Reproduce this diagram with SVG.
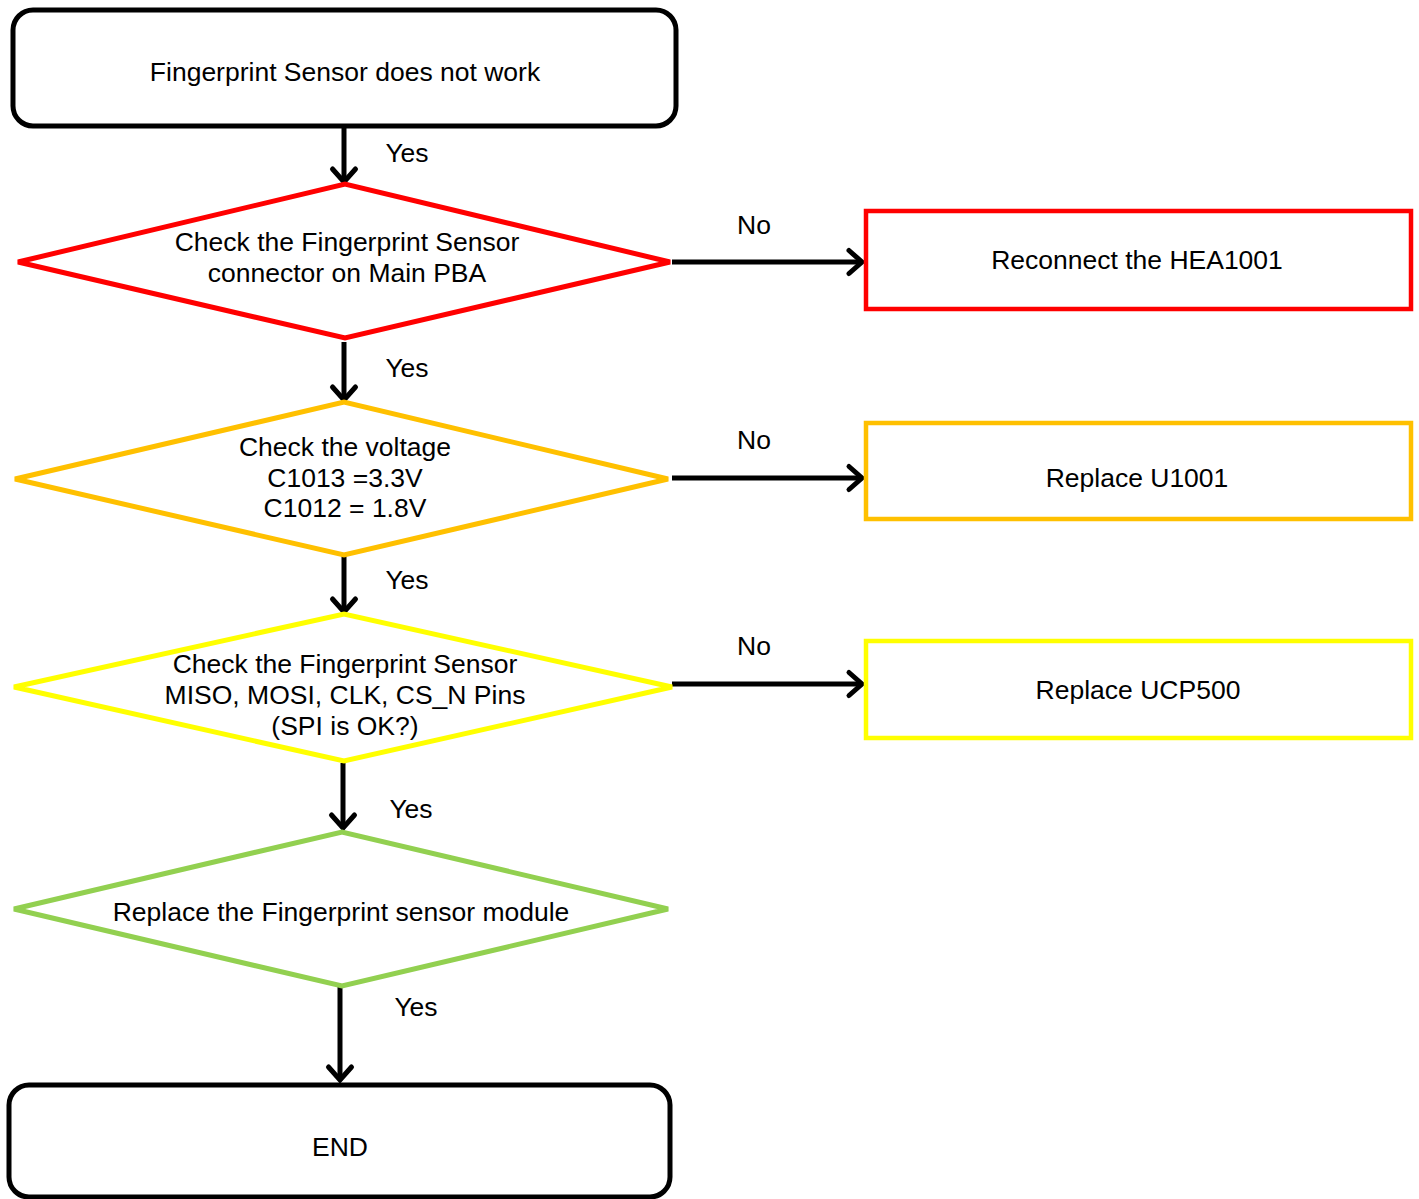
<svg xmlns="http://www.w3.org/2000/svg" width="1419" height="1199" viewBox="0 0 1419 1199">
<style>
text{font-family:"Liberation Sans",Arial,sans-serif;font-size:26.5px;fill:#000;text-anchor:middle;dominant-baseline:central}
.term{fill:#fff;stroke:#000;stroke-width:5}
.dia{fill:#fff;stroke-width:5}
.box{fill:#fff;stroke-width:4.5}
.conn{stroke:#000;stroke-width:5;fill:none;marker-end:url(#arr)}
</style>
<defs>
<marker id="arr" markerUnits="userSpaceOnUse" markerWidth="32" markerHeight="32" refX="24" refY="16" orient="auto" viewBox="0 0 32 32">
<path d="M11,4.5 L24,16 L11,27.5" fill="none" stroke="#000" stroke-width="5" stroke-linecap="round" stroke-linejoin="miter"/>
</marker>
</defs>
<rect width="1419" height="1199" fill="#fff"/>
<g id="connectors">
<line class="conn" x1="344" y1="126" x2="344" y2="182"/>
<line class="conn" x1="672" y1="262" x2="862" y2="262"/>
<line class="conn" x1="344" y1="342" x2="344" y2="400"/>
<line class="conn" x1="672" y1="478" x2="862" y2="478"/>
<line class="conn" x1="344" y1="556" x2="344" y2="612"/>
<line class="conn" x1="672" y1="684" x2="862" y2="684"/>
<line class="conn" x1="343" y1="763" x2="343" y2="828"/>
<line class="conn" x1="340" y1="987" x2="340" y2="1080"/>
<text x="407" y="153">Yes</text>
<text x="754" y="225">No</text>
<text x="407" y="368">Yes</text>
<text x="754" y="440">No</text>
<text x="407" y="580">Yes</text>
<text x="754" y="646">No</text>
<text x="411" y="809">Yes</text>
<text x="416" y="1007">Yes</text>
</g>
<g id="start">
<rect class="term" x="13" y="10" width="663" height="116" rx="20"/>
<text x="345" y="72">Fingerprint Sensor does not work</text>
</g>
<g id="check-connector">
<polygon class="dia" stroke="#FF0000" points="18,262 345,184 670,262 345,338"/>
<text x="347" y="242">Check the Fingerprint Sensor</text>
<text x="347" y="273">connector on Main PBA</text>
</g>
<g id="reconnect">
<rect class="box" stroke="#FF0000" x="866" y="211" width="545" height="98"/>
<text x="1137" y="260">Reconnect the HEA1001</text>
</g>
<g id="check-voltage">
<polygon class="dia" stroke="#FFC000" points="15,479 344,402 668,479 344,555"/>
<text x="345" y="447">Check the voltage</text>
<text x="345" y="478">C1013 =3.3V</text>
<text x="345" y="508">C1012 = 1.8V</text>
</g>
<g id="replace-u1001">
<rect class="box" stroke="#FFC000" x="866" y="423" width="545" height="96"/>
<text x="1137" y="478">Replace U1001</text>
</g>
<g id="check-spi">
<polygon class="dia" stroke="#FFFF00" points="14,687 344,614 672,687 344,761"/>
<text x="345" y="664">Check the Fingerprint Sensor</text>
<text x="345" y="695">MISO, MOSI, CLK, CS_N Pins</text>
<text x="345" y="726">(SPI is OK?)</text>
</g>
<g id="replace-ucp500">
<rect class="box" stroke="#FFFF00" x="866" y="641" width="545" height="97"/>
<text x="1138" y="690">Replace UCP500</text>
</g>
<g id="replace-module">
<polygon class="dia" stroke="#92D050" points="14,909 342,832 668,909 342,986"/>
<text x="341" y="912">Replace the Fingerprint sensor module</text>
</g>
<g id="end">
<rect class="term" x="9" y="1085" width="661" height="112" rx="20"/>
<text x="340" y="1147">END</text>
</g>
</svg>
